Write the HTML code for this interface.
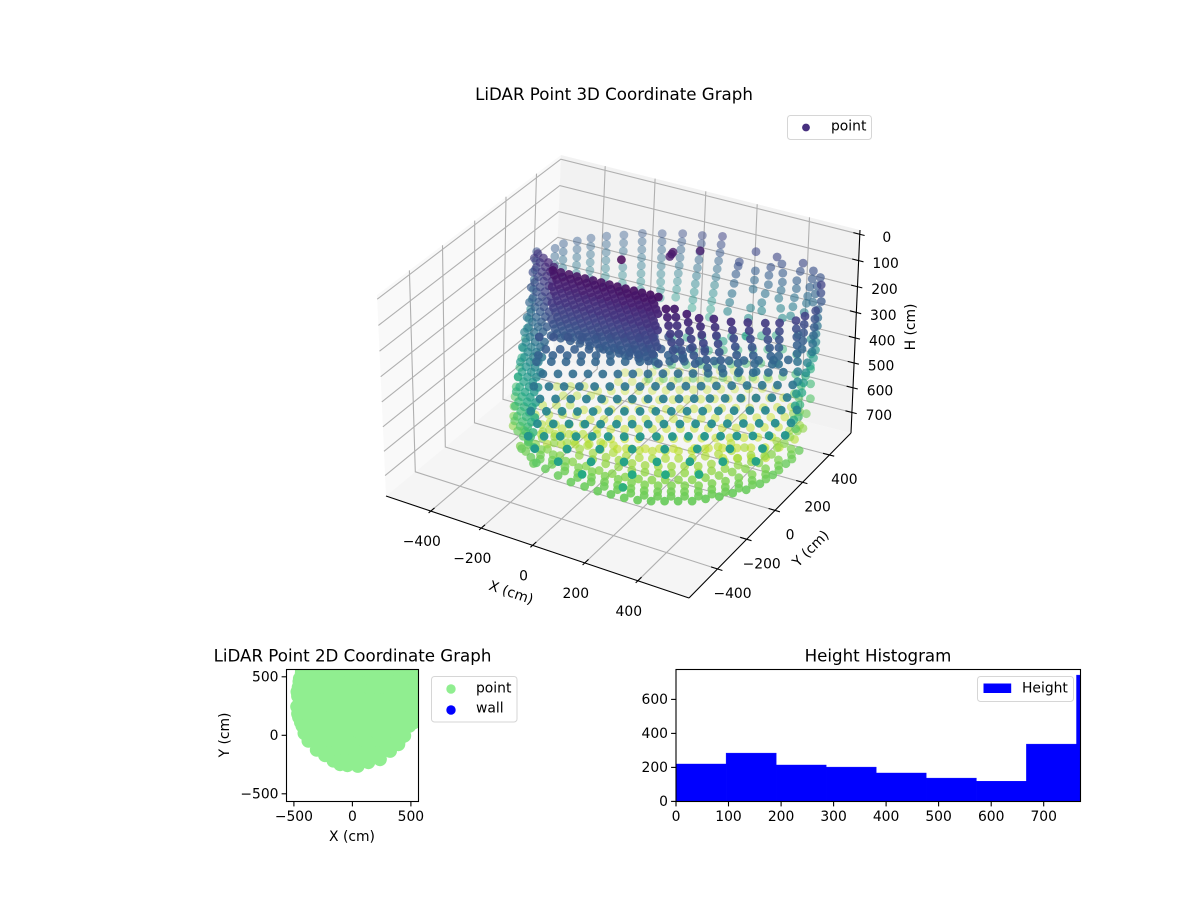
<!DOCTYPE html>
<html lang="en">
<head>
<meta charset="utf-8">
<title>LiDAR Point Graphs</title>
<style>
html,body{margin:0;padding:0;background:#fff;width:1200px;height:900px;overflow:hidden}
svg{display:block}
text{font-family:"DejaVu Sans","Liberation Sans",sans-serif;fill:#000}
</style>
</head>
<body>
<svg id="figure" xmlns="http://www.w3.org/2000/svg" width="1200" height="900" viewBox="0 0 1200 900">
  <defs>
    <clipPath id="clip-2d"><rect x="286.5" y="669.5" width="132" height="132"></rect></clipPath>
    <clipPath id="clip-hist"><rect x="676" y="669.5" width="404.5" height="132"></rect></clipPath>
  </defs>
  <g id="panel-3d"></g>
  <g id="panel-2d"></g>
  <g id="panel-hist"></g>

  <text x="614" y="94.5" text-anchor="middle" dominant-baseline="central" font-size="16.67">LiDAR Point 3D Coordinate Graph</text>
  <text x="352.5" y="656" text-anchor="middle" dominant-baseline="central" font-size="16.67">LiDAR Point 2D Coordinate Graph</text>
  <text x="878" y="656" text-anchor="middle" dominant-baseline="central" font-size="16.67">Height Histogram</text>

  <text transform="translate(511,593) rotate(19)" text-anchor="middle" dominant-baseline="central" font-size="13.89">X (cm)</text>
  <text transform="translate(811,549) rotate(-45)" text-anchor="middle" dominant-baseline="central" font-size="13.89">Y (cm)</text>
  <text transform="translate(911,327) rotate(-90)" text-anchor="middle" dominant-baseline="central" font-size="13.89">H (cm)</text>

  <text x="352" y="837" text-anchor="middle" dominant-baseline="central" font-size="13.89">X (cm)</text>
  <text transform="translate(225,735) rotate(-90)" text-anchor="middle" dominant-baseline="central" font-size="13.89">Y (cm)</text>

  <g>
    <rect x="787.5" y="115.5" width="84" height="24" rx="3" fill="#fff" fill-opacity="0.8" stroke="#d6d6d6"></rect>
    <circle cx="806" cy="127.5" r="3.9" fill="#47307f"></circle>
    <text x="831" y="126.5" dominant-baseline="central" font-size="13.89">point</text>
  </g>
  <g>
    <rect x="431.5" y="676.5" width="85.5" height="45.5" rx="3" fill="#fff" fill-opacity="0.8" stroke="#d6d6d6"></rect>
    <circle cx="451" cy="689" r="4.7" fill="#90ee90"></circle>
    <text x="476" y="688.7" dominant-baseline="central" font-size="13.89">point</text>
    <circle cx="451" cy="710" r="4.7" fill="#0000ff"></circle>
    <text x="476" y="708.7" dominant-baseline="central" font-size="13.89">wall</text>
  </g>
</svg>
<script>
/* ---------- 3D scatter data: [x cm, y cm, height cm] ---------- */
const isolatedPoints=[[14,30,5],[105,220,45],[103,214,50],[101,205,55],[176,280,50]];
const backWallPoints=[
[-425,341,225],[-420,332,251],[-415,323,277],[-410,314,303],
[-417,385,225],[-412,376,251],[-407,367,277],[-402,358,303],[-397,349,329],
[-385,426,225],[-380,417,251],[-375,408,277],[-370,399,303],[-365,390,329],
[-354,468,225],[-349,459,251],[-344,450,277],[-339,441,303],[-334,432,329],[-329,423,355],
[-313,507,225],[-308,498,251],[-303,489,277],[-298,480,303],[-293,471,329],[-288,462,355],[-283,453,381],
[-265,544,225],[-260,535,251],[-255,526,277],[-245,508,329],[-240,499,355],[-235,490,381],[-230,481,407],
[-200,559,210],[-195,550,236],[-190,541,262],[-185,532,288],[-180,523,314],[-175,514,340],[-170,505,366],[-165,496,392],
[-129,573,200],[-124,564,226],[-119,555,252],[-114,546,278],[-109,537,304],[-104,528,330],[-99,519,356],[-94,510,382],[-89,501,408],
[-53,581,185],[-52,575,213],[-51,569,241],[-50,563,269],[-49,557,297],[-48,551,325],[-47,545,353],[-46,539,381],[-45,533,409],
[27,575,170],[27,570,199],[26,564,228],[26,559,257],[25,553,286],[25,548,315],[24,543,344],[24,537,373],[23,532,402],[23,527,431],
[105,576,155],[103,572,185],[102,568,215],[100,564,245],[98,560,275],[97,555,305],[95,551,335],[93,547,365],[91,543,395],[90,539,425],[88,535,455],
[217,491,185],[216,485,198],[214,475,225],[215,462,254],[215,449,287],[213,438,317],[212,427,347],[222,382,440],
[250,549,165],[262,526,225],[265,516,255],[266,506,285],[272,481,345],[274,463,375],[281,435,430],
[331,549,165],[317,532,200],[315,524,228],[319,515,258],[315,502,288],[310,489,318],[312,486,348],
[348,554,190],[356,547,220],[360,539,250],[359,534,280],[354,529,310],[368,518,340],[381,508,370],
[425,560,170],[419,553,200],[414,539,230],[415,537,260],[414,526,290],[415,516,320],[414,503,350],
[465,560,190],[467,549,215],[466,535,240],[465,524,270],[464,518,295],[463,506,325],
[499,546,200],[495,531,225],[496,518,250],[495,504,275],
[509,472,400],[525,443,440],[540,414,480],[556,385,520],[571,357,560],[575,321,600],[581,288,640],
[442,510,420],[454,479,480],[475,435,530],[487,405,590],[508,360,640]];
const midWallPoints=[
[40,354,460],[84,379,460],[128,405,460],[172,431,460],[216,456,460],[260,482,460],[304,508,460],[348,533,460],
[73,343,500],[117,368,500],[161,394,500],[205,420,500],[248,445,500],[292,471,500],[336,496,500],[380,522,500],
[21,282,540],[65,308,540],[109,333,540],[153,359,540],[197,385,540],[241,410,540],[285,436,540],[329,462,540],[373,487,540],
[10,245,580],[54,271,580],[98,297,580],[142,322,580],[186,348,580],[230,374,580],[274,399,580],[318,425,580],[362,450,580],[406,476,580]];
const leftBandPoints=[
[-434,230,190],[-419,195,240],[-407,167,300],[-389,119,350],[-375,72,400],[-360,22,450],[-346,-25,500],[-323,-88,540],[-313,-120,600],[-282,-178,640],
[-426,212,215],[-413,181,270],[-398,143,325],[-382,95,375],[-367,47,425],[-353,-1,475],[-334,-56,520],[-318,-104,570],[-297,-149,620],
[-371,109,142],[-354,71,174],[-339,36,212],[-327,5,252],[-317,-27,292],[-308,-59,332],[-297,-91,372],[-286,-122,412],[-278,-150,454],[-269,-178,497],[-256,-207,537],[-241,-236,577],
[-356,107,120],[-339,69,150],[-322,30,185],[-309,0,225],[-299,-32,265],[-289,-64,305],[-280,-96,345],[-267,-127,385],[-258,-158,425],[-252,-184,470],[-239,-213,510],[-227,-243,550],[-209,-270,590],[-176,-309,620],
[-325,68,127],[-308,30,159],[-293,-5,197],[-281,-36,237],[-271,-68,277],[-262,-100,317],[-251,-132,357],[-240,-163,397],[-232,-191,439],[-223,-219,482],[-210,-248,522],[-195,-277,562],
[-310,66,105],[-293,28,135],[-276,-11,170],[-263,-41,210],[-253,-73,250],[-243,-105,290],[-234,-137,330],[-221,-168,370],[-212,-199,410],[-206,-225,455],[-193,-254,495],[-181,-284,535],[-163,-311,575],[-130,-350,605],
[-279,27,112],[-262,-11,144],[-247,-46,182],[-235,-77,222],[-225,-109,262],[-216,-141,302],[-205,-173,342],[-194,-204,382],[-186,-232,424],[-177,-260,467],[-164,-289,507],[-149,-318,547],
[-265,24,90],[-248,-14,120],[-231,-53,155],[-218,-83,195],[-208,-115,235],[-198,-147,275],[-189,-179,315],[-176,-210,355],[-167,-241,395],[-161,-267,440],[-148,-296,480],[-136,-326,520],[-118,-353,560],[-85,-392,590],
[-234,-15,97],[-217,-53,129],[-202,-88,167],[-190,-119,207],[-180,-151,247],[-171,-183,287],[-160,-215,327],[-149,-246,367],[-141,-274,409],[-132,-302,452],[-119,-331,492],[-104,-360,532],
[-219,-17,75],[-202,-55,105],[-185,-94,140],[-172,-124,180],[-162,-156,220],[-152,-188,260],[-143,-220,300],[-130,-251,340],[-121,-282,380],[-115,-308,425],[-102,-337,465],[-90,-367,505],[-72,-394,545],[-39,-433,575]];
const topFanPoints=[
[-174,-99,35],[-144,-97,35],[-114,-95,35],[-84,-94,35],[-54,-92,35],[-24,-90,35],[6,-88,35],[36,-86,35],[66,-85,35],[96,-83,35],[126,-81,35],[156,-79,35],[186,-77,35],[216,-76,35],
[-164,-105,47],[-134,-103,47],[-104,-101,47],[-74,-100,47],[-44,-98,47],[-14,-96,47],[16,-94,47],[46,-92,47],[76,-91,47],[106,-89,47],[136,-87,47],[166,-85,47],[196,-83,47],
[-153,-109,59],[-123,-107,59],[-93,-106,59],[-63,-104,59],[-33,-102,59],[-3,-100,59],[27,-98,59],[57,-97,59],[87,-95,59],[117,-93,59],[147,-91,59],[177,-89,59],[207,-88,59],
[-142,-116,71],[-112,-114,71],[-82,-112,71],[-52,-111,71],[-22,-109,71],[8,-107,71],[38,-105,71],[68,-103,71],[98,-102,71],[128,-100,71],[158,-98,71],[188,-96,71],[218,-94,71],
[-162,-122,83],[-132,-120,83],[-102,-118,83],[-72,-117,83],[-42,-115,83],[-12,-113,83],[18,-111,83],[48,-109,83],[78,-108,83],[108,-106,83],[138,-104,83],[168,-102,83],[198,-100,83],[228,-99,83],
[-152,-127,95],[-122,-125,95],[-92,-123,95],[-62,-122,95],[-32,-120,95],[-2,-118,95],[28,-116,95],[58,-114,95],[88,-113,95],[118,-111,95],[148,-109,95],[178,-107,95],[208,-105,95],
[-141,-132,107],[-111,-130,107],[-81,-129,107],[-51,-127,107],[-21,-125,107],[9,-123,107],[39,-121,107],[69,-120,107],[99,-118,107],[129,-116,107],[159,-114,107],[189,-112,107],[219,-111,107],
[-131,-139,119],[-101,-137,119],[-71,-135,119],[-41,-134,119],[-11,-132,119],[19,-130,119],[49,-128,119],[79,-126,119],[109,-125,119],[139,-123,119],[169,-121,119],[199,-119,119],[229,-117,119],
[-150,-144,131],[-120,-142,131],[-90,-140,131],[-60,-139,131],[-30,-137,131],[0,-135,131],[30,-133,131],[60,-131,131],[90,-130,131],[120,-128,131],[150,-126,131],[180,-124,131],[210,-122,131],[240,-121,131],
[-140,-150,143],[-110,-148,143],[-80,-146,143],[-50,-145,143],[-20,-143,143],[10,-141,143],[40,-139,143],[70,-137,143],[100,-136,143],[130,-134,143],[160,-132,143],[190,-130,143],[220,-128,143],
[-129,-155,155],[-99,-153,155],[-69,-152,155],[-39,-150,155],[-9,-148,155],[21,-146,155],[51,-144,155],[81,-143,155],[111,-141,155],[141,-139,155],[171,-137,155],[201,-135,155],[231,-134,155],
[-118,-161,167],[-88,-159,167],[-58,-157,167],[-28,-156,167],[2,-154,167],[32,-152,167],[62,-150,167],[92,-148,167],[122,-147,167],[152,-145,167],[182,-143,167],[212,-141,167],[242,-139,167],
[-138,-167,179],[-108,-165,179],[-78,-163,179],[-48,-162,179],[-18,-160,179],[12,-158,179],[42,-156,179],[72,-154,179],[102,-153,179],[132,-151,179],[162,-149,179],[192,-147,179],[222,-145,179],[252,-144,179],
[-127,-172,191],[-97,-170,191],[-67,-168,191],[-37,-167,191],[-7,-165,191],[23,-163,191],[53,-161,191],[83,-159,191],[113,-158,191],[143,-156,191],[173,-154,191],[203,-152,191],[233,-150,191],
[-117,-178,203],[-87,-176,203],[-57,-175,203],[-27,-173,203],[3,-171,203],[33,-169,203],[63,-167,203],[93,-166,203],[123,-164,203],[153,-162,203],[183,-160,203],[213,-158,203],[243,-157,203],
[-106,-184,215],[-76,-182,215],[-46,-180,215],[-16,-179,215],[14,-177,215],[44,-175,215],[74,-173,215],[104,-171,215],[134,-170,215],[164,-168,215],[194,-166,215],[224,-164,215],
[-126,-189,227],[-90,-187,227],[-54,-185,227],[-18,-183,227],[18,-181,227],[54,-178,227],[90,-176,227],[126,-174,227],[162,-172,227],[198,-170,227],[234,-168,227],[270,-166,227]];
const rightColumnPoints=[
[259,-101,55],[267,-105,82],[275,-110,109],[284,-114,136],[292,-119,163],[300,-123,190],[308,-127,217],
[279,-80,60],[287,-84,87],[295,-89,114],[304,-93,141],[312,-98,168],[320,-102,195],[328,-106,222],
[322,-74,70],[330,-78,97],[338,-83,124],[347,-87,151],[355,-92,178],[363,-96,205],[371,-100,232],
[362,-63,80],[370,-67,107],[378,-72,134],[387,-76,161],[395,-81,188],[403,-85,215],[411,-89,242],
[398,-29,90],[406,-33,117],[414,-38,144],[423,-42,171],[431,-47,198],[439,-51,225],[447,-55,252],
[441,11,110],[449,7,137],[457,2,164],[466,-2,191],[474,-7,218],[482,-11,245],[490,-15,272],
[483,49,120],[491,45,147],[499,40,174],[508,36,201],[516,31,228],[524,27,255],[532,23,282],
[528,87,130],[536,83,157],[544,78,184],[553,74,211],[561,69,238],[569,65,265],
[561,125,140],[565,118,167],[569,111,194],[572,104,221],[576,97,248],[580,90,275],
[594,179,150],[599,173,177],[605,167,204],[610,161,231],[615,154,258],[620,148,285],[625,143,320],[625,144,360],[628,132,400],[631,119,440],[640,94,480],
[607,218,150],[609,210,177],[612,202,204],[614,194,231],[616,186,258],
[608,295,170],[610,287,197],[613,279,224],[615,271,251],[617,263,278],[620,255,305],[613,237,340],[609,236,380],[603,233,420],[599,232,460],[600,218,500],[603,205,540],[609,174,570],
[562,424,150],[563,422,180],[567,419,210],[560,412,240],[561,410,270],[562,407,300],[560,403,330],[562,401,360],[563,398,390],[559,393,420],[552,386,450],[539,379,490],[527,373,530],[527,359,570],[542,337,610],[555,315,650],[561,268,680]];
const frontLatticePoints=[
[-132,-255,200],[-91,-231,200],[-50,-207,200],[-9,-183,200],[32,-159,200],[73,-135,200],[114,-111,200],[155,-87,200],[196,-63,200],[237,-39,200],
[-93,-278,224],[-52,-254,224],[-11,-230,224],[30,-206,224],[71,-182,224],[112,-158,224],[153,-134,224],[194,-110,224],[235,-86,224],[276,-62,224],[318,-38,224],[359,-14,224],
[-104,-307,236],[-63,-283,236],[-22,-259,236],[19,-235,236],[60,-211,236],[101,-187,236],[142,-163,236],[183,-139,236],[224,-115,236],[265,-91,236],[306,-67,236],
[-99,-328,248],[-57,-303,248],[-15,-279,248],[27,-254,248],[69,-230,248],[111,-205,248],[153,-180,248],[195,-156,248],[237,-131,248],[279,-106,248],[321,-82,248],[363,-57,248],[405,-33,248],[447,-8,248],[489,17,248],[531,41,248],[573,66,248],[615,90,248],
[-61,-350,272],[-18,-325,272],[24,-300,272],[67,-275,272],[109,-251,272],[152,-226,272],[194,-201,272],[237,-176,272],[279,-151,272],[322,-126,272],[364,-101,272],[407,-76,272],[449,-51,272],[492,-26,272],[534,-1,272],[577,24,272],[619,49,272],
[-66,-400,296],[-23,-375,296],[20,-350,296],[63,-324,296],[106,-299,296],[149,-274,296],[192,-249,296],[235,-224,296],[278,-198,296],[321,-173,296],[364,-148,296],[407,-123,296],[450,-98,296],[493,-72,296],[536,-47,296],[579,-22,296],[622,3,296],[665,28,296],
[-28,-424,320],[16,-398,320],[59,-373,320],[103,-347,320],[146,-322,320],[190,-296,320],[233,-271,320],[277,-245,320],[320,-220,320],[364,-194,320],[407,-169,320],[451,-143,320],[494,-118,320],[538,-92,320],[581,-67,320],[625,-41,320],[668,-16,320],
[-34,-473,344],[10,-447,344],[54,-421,344],[98,-396,344],[142,-370,344],[186,-344,344],[230,-318,344],[274,-292,344],[318,-266,344],[362,-241,344],[406,-215,344],[450,-189,344],[494,-163,344],[538,-137,344],[582,-111,344],[626,-86,344],[670,-60,344],[714,-34,344],
[5,-496,368],[50,-470,368],[94,-444,368],[139,-418,368],[183,-392,368],[228,-366,368],[272,-340,368],[317,-314,368],[361,-288,368],[406,-262,368],[450,-236,368],[495,-210,368],[539,-184,368],[584,-158,368],[628,-132,368],[673,-106,368],[717,-80,368],
[-1,-545,392],[44,-519,392],[89,-492,392],[134,-466,392],[179,-439,392],[224,-413,392],[269,-387,392],[314,-361,392],[359,-334,392],[404,-308,392],[449,-281,392],[494,-255,392],[539,-229,392],[584,-202,392],[629,-176,392],[674,-150,392],[719,-123,392],
[38,-568,416],[129,-515,416],[220,-461,416],[311,-408,416],[402,-355,416],[493,-301,416],[584,-248,416],[675,-195,416],
[124,-564,440],[216,-510,440],[308,-456,440],[400,-402,440],[492,-348,440],[584,-295,440],[676,-241,440],
[211,-559,464],[351,-477,464],[444,-423,464],[537,-368,464],
[345,-527,488]];
const greenCrescentPoints=[
[-139,-362,590],[-57,-422,590],[-6,-430,590],[51,-444,590],[108,-457,590],[160,-457,590],[211,-459,590],[258,-454,590],[306,-450,590],[350,-439,590],[391,-422,590],[429,-400,590],[467,-378,590],[506,-355,590],[538,-322,590],[570,-288,590],[598,-248,590],[627,-209,590],[649,-156,590],[661,-88,590],[667,-7,590],[668,86,590],
[-141,-315,599],[-59,-375,599],[-8,-383,599],[49,-397,599],[106,-410,599],[158,-410,599],[209,-412,599],[256,-407,599],[304,-403,599],[348,-392,599],[389,-375,599],[427,-353,599],[465,-331,599],[504,-308,599],[536,-275,599],[568,-241,599],[596,-201,599],[625,-162,599],[647,-109,599],[659,-41,599],[665,40,599],
[-161,-279,608],[-79,-339,608],[-28,-347,608],[29,-361,608],[86,-374,608],[138,-374,608],[189,-376,608],[236,-371,608],[284,-367,608],[328,-356,608],[369,-339,608],[407,-317,608],[445,-295,608],[484,-272,608],[516,-239,608],[548,-205,608],[576,-165,608],[605,-126,608],[627,-73,608],[639,-5,608],[645,76,608],
[-185,-233,619],[-103,-293,619],[-52,-301,619],[5,-315,619],[62,-328,619],[114,-328,619],[165,-330,619],[212,-325,619],[260,-321,619],[304,-310,619],[345,-293,619],[383,-271,619],[421,-249,619],[460,-226,619],[492,-193,619],[524,-159,619],[552,-119,619],[581,-80,619],[603,-27,619],[615,41,619],[621,122,619],
[-228,-198,630],[-146,-258,630],[-95,-266,630],[-38,-280,630],[19,-293,630],[71,-293,630],[122,-295,630],[169,-290,630],[217,-286,630],[261,-275,630],[302,-258,630],[340,-236,630],[378,-214,630],[417,-191,630],[449,-158,630],[481,-124,630],[509,-84,630],[538,-45,630],[560,8,630],[572,76,630],[578,157,630],[579,250,630],
[-158,-193,643],[-107,-201,643],[-50,-215,643],[7,-228,643],[59,-228,643],[110,-230,643],[157,-225,643],[205,-221,643],[249,-210,643],[290,-193,643],[328,-171,643],[366,-149,643],[405,-126,643],[437,-93,643],[469,-59,643],[497,-19,643],[526,20,643],[548,73,643],[560,141,643],[566,222,643],
[-188,-138,656],[-137,-146,656],[-80,-160,656],[-23,-173,656],[29,-173,656],[80,-175,656],[127,-170,656],[175,-166,656],[219,-155,656],[260,-138,656],[298,-116,656],[336,-94,656],[375,-71,656],[407,-38,656],[439,-4,656],[467,36,656],[496,75,656],[518,128,656],[530,196,656],[536,277,656],
[-189,-92,671],[-132,-106,671],[-75,-119,671],[-23,-119,671],[28,-121,671],[75,-116,671],[123,-112,671],[167,-101,671],[208,-84,671],[246,-62,671],[284,-40,671],[323,-17,671],[355,16,671],[387,50,671],[415,90,671],[444,129,671],
[-224,-28,687],[-167,-42,687],[-110,-55,687],[-58,-55,687],[-7,-57,687],[40,-52,687],[88,-48,687],[132,-37,687],[173,-20,687],[211,2,687],[249,24,687],[288,47,687],[320,80,687],[352,114,687],[380,154,687]];
const yellowFloorPoints=[
[-181,433,700],[-140,457,700],[-99,481,700],[-58,505,700],[-17,529,700],[24,553,700],[65,577,700],[106,601,700],[147,625,700],
[-170,363,700],[-128,387,700],[-87,411,700],[-46,435,700],[-5,459,700],[36,483,700],[77,507,700],[118,531,700],[159,555,700],[200,579,700],[241,603,700],[282,626,700],
[-323,196,680],[-282,220,680],[-241,244,680],[-200,268,700],[-159,292,700],[-118,316,700],[-77,340,700],[-36,364,700],[5,388,700],[46,412,700],[87,436,700],[128,460,700],[169,484,700],[210,508,700],[252,531,700],[293,555,700],[334,579,700],
[-271,149,680],[-230,173,680],[-189,197,680],[-148,221,700],[-106,245,700],[-65,269,700],[-24,293,700],[17,317,700],[58,341,700],[99,365,700],[140,389,700],[181,413,700],[222,437,700],[263,461,700],[304,484,700],[345,508,700],[386,532,700],
[-300,55,680],[-259,79,680],[-218,103,680],[-177,127,700],[-136,151,700],[-95,175,700],[-54,199,700],[-13,223,700],[28,247,700],[69,271,700],[110,295,700],[151,319,700],[192,343,700],[233,367,700],[275,390,700],[316,414,700],[357,438,700],[398,462,700],[439,486,700],
[-289,-16,680],[-248,8,680],[-207,32,680],[-166,56,680],[-125,80,700],[-84,104,700],[-42,128,700],[-1,152,700],[40,176,700],[81,200,700],[122,224,700],[163,248,700],[204,272,700],[245,296,700],[286,320,700],[327,343,700],[368,367,700],[409,391,700],[450,415,700],
[-236,-63,680],[-195,-39,680],[-154,-15,680],[-113,9,680],[-72,33,700],[-31,57,700],[10,81,700],[51,105,700],[92,129,700],[133,153,700],[174,177,700],[215,201,700],[256,225,700],[297,249,700],[338,272,700],[380,296,700],[421,320,700],[462,344,700],
[-204,-121,680],[-163,-97,680],[-122,-73,680],[-81,-49,680],[-40,-25,680],[1,-1,700],[42,23,700],[83,47,700],[145,83,700],[186,107,700],[227,131,700],[268,155,700],[309,179,700],[350,203,700],[391,227,700],[432,251,700],[473,275,700],
[-153,-168,680],[-112,-144,680],[-71,-120,680],[-30,-96,680],[11,-72,680],[53,-48,700],[94,-24,700],[135,0,700],[176,24,700],[217,48,700],[278,84,700],[319,108,700],[360,132,700],[402,155,700],[443,179,700],[484,203,700],[525,227,700],
[392,74,700],[434,97,700],[475,121,700],[516,145,700]];

/* ---------- 3D axis ticks ---------- */
const xTickValues3d=[-400,-200,0,200,400];
const yTickValues3d=[-400,-200,0,200,400];
const hTickValues3d=[0,100,200,300,400,500,600,700];

/* ---------- 2D scatter data ---------- */
const topViewOutline=[[-433,530],[-453,459],[-470,373],[-473,245],[-456,154],[-427,80],[-410,17],[-376,-48],[-305,-125],[-234,-171],[-162,-217],[-105,-248],[-43,-256],[46,-262],[137,-231],[236,-205],[322,-134],[393,-77],[444,-3],[487,80],[521,131],[535,200],[560,300],[560,400],[550,500],[507,516],[-435,570],[540,570]];
const topViewRowY=[-190,-115,-40,35,110,185,260,335,410,485,560];
const topViewRowX=[
[-150,-75,0,75,150,225],
[-290,-215,-140,-65,10,85,160,235,310],
[-350,-275,-200,-125,-50,25,100,175,250,325,400],
[-400,-325,-250,-175,-100,-25,50,125,200,275,350,425],
[-440,-365,-290,-215,-140,-65,10,85,160,235,310,385,460,525],
[-465,-390,-315,-240,-165,-90,-15,60,135,210,285,360,435,510],
[-460,-385,-310,-235,-160,-85,-10,65,140,215,290,365,440,515],
[-465,-390,-315,-240,-165,-90,-15,60,135,210,285,360,435,510],
[-460,-385,-310,-235,-160,-85,-10,65,140,215,290,365,440,515],
[-450,-375,-300,-225,-150,-75,0,75,150,225,300,375,450,525],
[-430,-355,-280,-205,-130,-55,20,95,170,245,320,395,470,545]];
const xTickValues2d=[-500,0,500];
const yTickValues2d=[-500,0,500];

/* ---------- Histogram data ---------- */
const binEdges=[0,95.3,190.6,285.9,381.2,476.5,571.8,667.1,762.4,857.7];
const binCounts=[220,284,214,202,167,137,119,337,743];
const histXTicks=[0,100,200,300,400,500,600,700];
const histYTicks=[0,200,400,600];

/* ---------- helpers ---------- */
const NS='http://www.w3.org/2000/svg';
function el(tag,parent,attrs,txt){
  const n=document.createElementNS(NS,tag);
  for(const k in attrs){n.setAttribute(k,attrs[k]);}
  if(txt!==undefined){n.textContent=txt;}
  parent.appendChild(n);
  return n;
}
function fmt(v){return v<0?'\u2212'+(-v):String(v);}
const viridisStops=['#440154','#482475','#414487','#355f8d','#2a788e','#21918c','#22a884','#44bf70','#7ad151','#bddf26','#fde725'];
function viridis(t){
  t=Math.max(0,Math.min(1,t))*10;
  const i=Math.min(9,Math.floor(t)),f=t-i;
  const a=viridisStops[i],b=viridisStops[i+1];
  let out='rgb(';
  for(let c=0;c<3;c++){
    const p=parseInt(a.substr(1+c*2,2),16),q=parseInt(b.substr(1+c*2,2),16);
    out+=Math.round(p+(q-p)*f)+(c<2?',':')');
  }
  return out;
}

/* ---------- 3D axis functions ---------- */
const xLim=[-580,590],yLim=[-590,565],hLim=[-16,785],colorMax=770;
const sensorOffsetX=-48,sensorOffsetY=18;
const boxCorners=[[[[377,295],[386,496]],[[561,155],[553,358]]],[[[692,397],[689,598]],[[860,230],[851,433]]]];
const viewW=[0.4096,-0.7094,0.5736],boxHalf=[0.5714,0.5714,0.4286];
function nearness(tx,ty,tz){
  return viewW[0]*(2*tx-1)*boxHalf[0]+viewW[1]*(2*ty-1)*boxHalf[1]+viewW[2]*(1-2*tz)*boxHalf[2];
}
function fractions(x,y,h){
  return [(x-xLim[0])/(xLim[1]-xLim[0]),(y-yLim[0])/(yLim[1]-yLim[0]),(h-hLim[0])/(hLim[1]-hLim[0])];
}
function project(x,y,h){
  const t=fractions(x,y,h);
  let sx=0,sy=0,sw=0;
  for(let i=0;i<2;i++)for(let j=0;j<2;j++)for(let k=0;k<2;k++){
    const b=(i?t[0]:1-t[0])*(j?t[1]:1-t[1])*(k?t[2]:1-t[2]);
    const w=b*(10-nearness(i,j,k));
    sx+=w*boxCorners[i][j][k][0];
    sy+=w*boxCorners[i][j][k][1];
    sw+=w;
  }
  return [sx/sw,sy/sw];
}
function poly(pts){return pts.map(p=>p[0].toFixed(1)+','+p[1].toFixed(1)).join(' ');}

/* ---------- draw 3D panel ---------- */
const p3=document.getElementById('panel-3d');
const xa=xLim[0],xb=xLim[1],ya=yLim[0],yb=yLim[1],ha=hLim[0],hb=hLim[1];

const paneLeft=el('polygon',p3,{points:poly([project(xa,ya,ha),project(xa,yb,ha),project(xa,yb,hb),project(xa,ya,hb)]),fill:'#f9f9f9'});


const paneBack=el('polygon',p3,{points:poly([project(xa,yb,ha),project(xb,yb,ha),project(xb,yb,hb),project(xa,yb,hb)]),fill:'#f2f2f2'});


const paneFloor=el('polygon',p3,{points:poly([project(xa,ya,hb),project(xb,ya,hb),project(xb,yb,hb),project(xa,yb,hb)]),fill:'#f5f5f5'});



function gridPath(pts,name){
  const g=el('polyline',p3,{points:poly(pts),fill:'none',stroke:'#b0b0b0','stroke-width':1.1});
  
  
}
xTickValues3d.forEach(v=>{gridPath([project(v,ya,hb),project(v,yb,hb),project(v,yb,ha)],'x-gridline');});
yTickValues3d.forEach(v=>{gridPath([project(xb,v,hb),project(xa,v,hb),project(xa,v,ha)],'y-gridline');});
hTickValues3d.forEach(v=>{gridPath([project(xa,ya,v),project(xa,yb,v),project(xb,yb,v)],'h-gridline');});

/* scatter marks: far first */
const allPoints=[].concat(isolatedPoints,backWallPoints,midWallPoints,leftBandPoints,topFanPoints,rightColumnPoints,frontLatticePoints,greenCrescentPoints,yellowFloorPoints);
const ranked=allPoints.map(p=>{const t=fractions(p[0],p[1],p[2]);return {p:p,near:nearness(t[0],t[1],t[2])};});
let nearMin=Infinity,nearMax=-Infinity;
ranked.forEach(r=>{nearMin=Math.min(nearMin,r.near);nearMax=Math.max(nearMax,r.near);});
ranked.sort((a,b)=>a.near-b.near);
const scatter3d=el('g',p3,{});


ranked.forEach(r=>{
  const q=project(r.p[0]+sensorOffsetX,r.p[1]+sensorOffsetY,r.p[2]);
  const c=el('circle',scatter3d,{cx:q[0].toFixed(1),cy:q[1].toFixed(1),r:4.4,fill:viridis(r.p[2]/colorMax),'fill-opacity':(0.3+0.7*(r.near-nearMin)/(nearMax-nearMin)).toFixed(2)});
  
  
});

function axisLine(parent,a,b,w,name){
  const l=el('line',parent,{x1:a[0].toFixed(1),y1:a[1].toFixed(1),x2:b[0].toFixed(1),y2:b[1].toFixed(1),stroke:'#000','stroke-width':w});
  
  
}
function label(parent,x,y,anchor,txt,name){
  const t=el('text',parent,{x:x.toFixed(1),y:y.toFixed(1),'text-anchor':anchor,'dominant-baseline':'central','font-size':13.89},txt);
  
  
}
axisLine(p3,project(xa,ya,hb),project(xb,ya,hb),1.1,'x-axis-line-3d');
axisLine(p3,project(xb,ya,hb),project(xb,yb,hb),1.1,'y-axis-line-3d');
axisLine(p3,project(xb,yb,ha),project(xb,yb,hb),1.1,'h-axis-line-3d');
xTickValues3d.forEach(v=>{
  axisLine(p3,project(v,ya-14,hb),project(v,ya+24,hb),1.1,'x-tick-3d');
  const q=project(v,ya,hb);
  label(p3,q[0]-9,q[1]+31,'middle',fmt(v),'x-tick-label-3d');
});
yTickValues3d.forEach(v=>{
  axisLine(p3,project(xb-24,v,hb),project(xb+18,v,hb),1.1,'y-tick-3d');
  const q=project(xb,v,hb);
  label(p3,q[0]+15,q[1]+25,'middle',fmt(v),'y-tick-label-3d');
});
hTickValues3d.forEach(v=>{
  axisLine(p3,project(xb-24,yb,v),project(xb+18,yb,v),1.1,'h-tick-3d');
  const q=project(xb,yb,v);
  label(p3,q[0]+27,q[1]+3.5,'middle',fmt(v),'h-tick-label-3d');
});

/* ---------- draw 2D panel ---------- */
const p2=document.getElementById('panel-2d');
const sx2=v=>352.4+v*0.117;
const sy2=v=>735.3-v*0.117;
const marks2d=el('g',p2,{'clip-path':'url(#clip-2d)'});


const topViewPoints=topViewOutline.slice();
topViewRowY.forEach((y,i)=>{topViewRowX[i].forEach(x=>{topViewPoints.push([x,y]);});});
topViewPoints.forEach(p=>{
  const c=el('circle',marks2d,{cx:sx2(p[0]).toFixed(1),cy:sy2(p[1]).toFixed(1),r:6.9,fill:'#90ee90'});
  
  
});
const frame2=el('rect',p2,{x:286.5,y:669.5,width:132,height:132,fill:'none',stroke:'#000','stroke-width':1.1});


xTickValues2d.forEach(v=>{
  axisLine(p2,[sx2(v),801.5],[sx2(v),806.4],1.1,'x-tick-2d');
  label(p2,sx2(v),817,'middle',fmt(v),'x-tick-label-2d');
});
yTickValues2d.forEach(v=>{
  axisLine(p2,[286.5,sy2(v)],[281.6,sy2(v)],1.1,'y-tick-2d');
  label(p2,278.5,sy2(v)+0.7,'end',fmt(v),'y-tick-label-2d');
});

/* ---------- draw histogram ---------- */
const ph=document.getElementById('panel-hist');
const sxh=v=>676+v*0.5253;
const syh=v=>801.4-v*0.17;
const bars=el('g',ph,{'clip-path':'url(#clip-hist)'});


binCounts.forEach((n,i)=>{
  const b=el('rect',bars,{x:sxh(binEdges[i]).toFixed(1),y:syh(n).toFixed(1),width:(sxh(binEdges[i+1])-sxh(binEdges[i])).toFixed(1),height:(syh(0)-syh(n)).toFixed(1),fill:'#0000ff','stroke':'#0000ff','stroke-width':0.4});
  
  
});
const frameH=el('rect',ph,{x:676,y:669.5,width:404.5,height:132,fill:'none',stroke:'#000','stroke-width':1.1});


histXTicks.forEach(v=>{
  axisLine(ph,[sxh(v),801.5],[sxh(v),806.4],1.1,'x-tick-histogram');
  label(ph,sxh(v),817,'middle',fmt(v),'x-tick-label-histogram');
});
histYTicks.forEach(v=>{
  axisLine(ph,[676,syh(v)],[671.1,syh(v)],1.1,'y-tick-histogram');
  label(ph,668,syh(v)+0.7,'end',fmt(v),'y-tick-label-histogram');
});
const legH=el('g',ph,{});


const legHBox=el('rect',legH,{x:977.5,y:676.5,width:96,height:25,rx:3,fill:'#fff','fill-opacity':0.8,stroke:'#d6d6d6'});


const legHSwatch=el('rect',legH,{x:983.5,y:683.5,width:27.7,height:9.5,fill:'#0000ff'});


label(legH,1022,688.5,'start','Height','legend-histogram-label');
</script>
</body>
</html>
